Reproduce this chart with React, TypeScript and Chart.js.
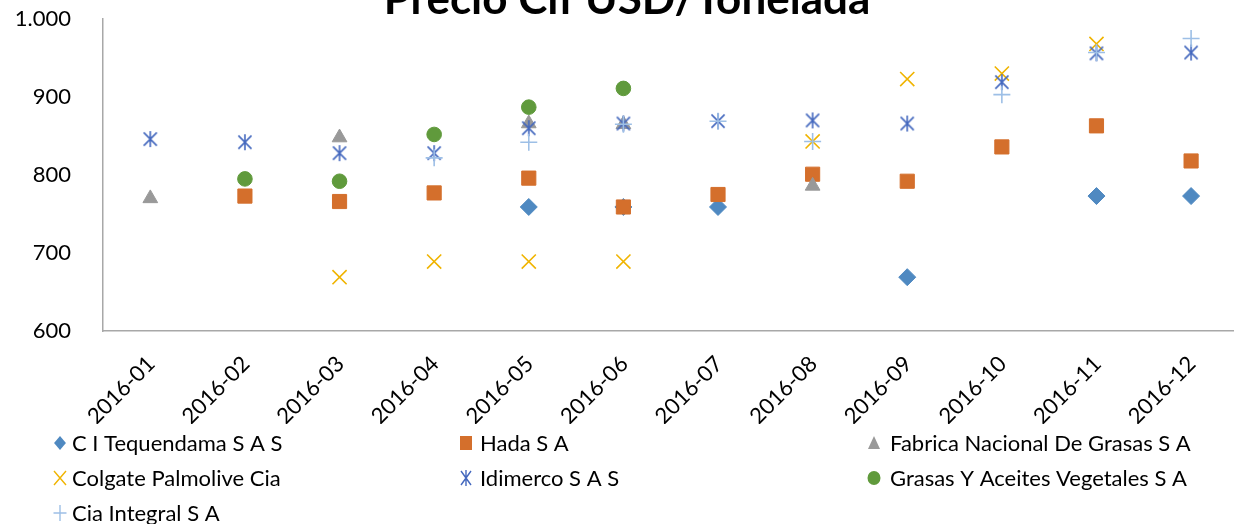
import React, { useEffect, useRef } from 'react';
import { Chart, registerables } from 'chart.js';

Chart.register(...registerables);

const TITLE = 'Precio Cif USD/Tonelada';

const categories = [
  '2016-01', '2016-02', '2016-03', '2016-04', '2016-05', '2016-06',
  '2016-07', '2016-08', '2016-09', '2016-10', '2016-11', '2016-12',
];

const seriesNames = [
  'C I Tequendama S A S',
  'Hada S A',
  'Fabrica Nacional De Grasas S A',
  'Colgate Palmolive Cia',
  'Idimerco S A S',
  'Grasas Y Aceites Vegetales S A',
  'Cia Integral S A',
];

const tequendama = [null, null, null, null, 759, 759, 759, null, 669, null, 773, 773];
const hada = [null, 773, 766, 777, 796, 759, 775, 801, 792, 836, 863, 818];
const fabrica = [770, null, 848, null, 866, 865, null, 786, null, null, null, null];
const colgate = [null, null, 669, 689, 689, 689, null, 843, 923, 930, 968, null];
const idimerco = [846, 842, 828, 828, 860, 866, 869, 870, 866, 919, 956, 957];
const grasas = [null, 795, 792, 852, 887, 911, null, null, null, null, null, null];
const ciaIntegral = [null, null, null, 822, 842, 865, 869, 843, null, 903, 957, 975];

const yTickValues = [600, 700, 800, 900, 1000];

const seriesValues = [tequendama, hada, fabrica, colgate, idimerco, grasas, ciaIntegral];

type Style = { color: string; shape: string; radius: number; lineWidth: number; filled: boolean };

const seriesStyles: Style[] = [
  { color: '#4f89c1', shape: 'rectRot', radius: 8.5, lineWidth: 1, filled: true },
  { color: '#d46f2c', shape: 'rect', radius: 10, lineWidth: 1, filled: true },
  { color: '#999999', shape: 'triangle', radius: 8.5, lineWidth: 1, filled: true },
  { color: '#f0b400', shape: 'crossRot', radius: 10, lineWidth: 1.6, filled: false },
  { color: '#4468be', shape: 'asterisk', radius: 8.5, lineWidth: 1.6, filled: false },
  { color: '#609a3c', shape: 'circle', radius: 7.3, lineWidth: 1, filled: true },
  { color: '#9dbfe6', shape: 'cross', radius: 8.5, lineWidth: 1.6, filled: false },
];

const FONT = 'Lato, "Open Sans", sans-serif';
const LEGEND_MARKER_X = [60, 466, 874];
const LEGEND_TEXT_X = [72, 480, 890];
const LEGEND_ROW_Y = [443, 478, 513];

function makeAsterisk(size: number, color: string, lw: number): HTMLCanvasElement {
  const c = document.createElement('canvas');
  c.width = size;
  c.height = size;
  const ctx = c.getContext('2d')!;
  ctx.strokeStyle = color;
  ctx.lineWidth = lw;
  const h = size / 2;
  const r = h - 1;
  ctx.beginPath();
  ctx.moveTo(h - r * 0.82, h - r * 0.82);
  ctx.lineTo(h + r * 0.82, h + r * 0.82);
  ctx.moveTo(h + r * 0.82, h - r * 0.82);
  ctx.lineTo(h - r * 0.82, h + r * 0.82);
  ctx.moveTo(h, h - r);
  ctx.lineTo(h, h + r);
  ctx.stroke();
  return c;
}

function drawLegendMarker(ctx: CanvasRenderingContext2D, st: Style, x: number, y: number) {
  ctx.save();
  ctx.fillStyle = st.color;
  ctx.strokeStyle = st.color;
  ctx.lineWidth = st.filled ? 1 : 1.4;
  const r = 7;
  ctx.beginPath();
  switch (st.shape) {
    case 'rectRot':
      ctx.moveTo(x, y - r);
      ctx.lineTo(x + r * 0.85, y);
      ctx.lineTo(x, y + r);
      ctx.lineTo(x - r * 0.85, y);
      ctx.closePath();
      ctx.fill();
      break;
    case 'rect':
      ctx.rect(x - 6, y - 7, 12, 14);
      ctx.fill();
      break;
    case 'triangle':
      ctx.moveTo(x, y - 7);
      ctx.lineTo(x + 6, y + 6);
      ctx.lineTo(x - 6, y + 6);
      ctx.closePath();
      ctx.fill();
      break;
    case 'circle':
      ctx.ellipse(x, y, 6.5, 7, 0, 0, Math.PI * 2);
      ctx.fill();
      break;
    case 'crossRot':
      ctx.moveTo(x - 6, y - 7);
      ctx.lineTo(x + 6, y + 7);
      ctx.moveTo(x + 6, y - 7);
      ctx.lineTo(x - 6, y + 7);
      ctx.stroke();
      break;
    case 'cross':
      ctx.moveTo(x - 6.5, y);
      ctx.lineTo(x + 6.5, y);
      ctx.moveTo(x, y - 8);
      ctx.lineTo(x, y + 8);
      ctx.stroke();
      break;
    case 'asterisk':
      ctx.moveTo(x - 5, y - 7);
      ctx.lineTo(x + 5, y + 7);
      ctx.moveTo(x + 5, y - 7);
      ctx.lineTo(x - 5, y + 7);
      ctx.moveTo(x, y - 8);
      ctx.lineTo(x, y + 8);
      ctx.stroke();
      break;
  }
  ctx.restore();
}

const titlePlugin = {
  id: 'excelTitle',
  afterDraw(chart: any) {
    const ctx = chart.ctx as CanvasRenderingContext2D;
    ctx.save();
    ctx.font = `bold 44px ${FONT}`;
    ctx.fillStyle = '#000';
    ctx.textAlign = 'center';
    ctx.textBaseline = 'alphabetic';
    ctx.fillText(TITLE, chart.width / 2 + 2, 14);
    ctx.restore();
  },
};

const legendPlugin = {
  id: 'excelLegend',
  afterDraw(chart: any) {
    const ctx = chart.ctx as CanvasRenderingContext2D;
    ctx.save();
    ctx.font = `22px ${FONT}`;
    ctx.fillStyle = '#000';
    ctx.textAlign = 'left';
    ctx.textBaseline = 'middle';
    seriesNames.forEach((name, i) => {
      const col = i % 3;
      const row = Math.floor(i / 3);
      drawLegendMarker(ctx, seriesStyles[i], LEGEND_MARKER_X[col], LEGEND_ROW_Y[row]);
      ctx.fillText(name, LEGEND_TEXT_X[col], LEGEND_ROW_Y[row] + 1);
    });
    ctx.restore();
  },
};

function formatThousands(v: number): string {
  const s = Math.round(v).toString();
  return s.replace(/\B(?=(\d{3})+(?!\d))/g, '.');
}

export default function App() {
  const canvasRef = useRef<HTMLCanvasElement | null>(null);

  useEffect(() => {
    const canvas = canvasRef.current;
    if (!canvas) return;
    const asterisk = makeAsterisk(18, seriesStyles[4].color, 1.6);
    const datasets = seriesNames.map((name, i) => {
      const st = seriesStyles[i];
      return {
        label: name,
        data: seriesValues[i],
        showLine: false,
        pointStyle: st.shape === 'asterisk' ? asterisk : st.shape,
        pointRadius: st.radius,
        pointHoverRadius: st.radius,
        pointBackgroundColor: st.color,
        pointBorderColor: st.color,
        pointBorderWidth: st.lineWidth,
        backgroundColor: st.color,
        borderColor: st.color,
        order: seriesNames.length - i,
      };
    });

    const chart = new Chart(canvas, {
      type: 'line',
      data: { labels: categories, datasets: datasets as any },
      options: {
        animation: false,
        responsive: false,
        devicePixelRatio: 1,
        layout: { padding: { top: 19, right: 2, bottom: 100, left: 0 } },
        plugins: {
          legend: { display: false },
          title: { display: false },
          tooltip: { enabled: false },
        },
        scales: {
          x: {
            type: 'category',
            offset: true,
            grid: { display: false, drawTicks: false },
            border: { display: true, color: '#a8a8a8', width: 1.5 },
            ticks: {
              autoSkip: false,
              minRotation: 45,
              maxRotation: 45,
              padding: 20,
              labelOffset: 1,
              color: '#000',
              font: { family: FONT, size: 22 },
            },
            afterFit: (scale: any) => {
              scale.height = 93;
            },
          },
          y: {
            type: 'linear',
            min: 600,
            max: 1000,
            afterBuildTicks: (scale: any) => {
              scale.ticks = yTickValues.map((v) => ({ value: v }));
            },
            grid: {
              display: true,
              drawOnChartArea: false,
              drawTicks: true,
              tickLength: 29,
              tickColor: 'rgba(0,0,0,0)',
              color: 'rgba(0,0,0,0)',
            },
            border: { display: true, color: '#a8a8a8', width: 1.5 },
            ticks: {
              padding: 3,
              color: '#000',
              font: { family: FONT, size: 22 },
              callback: (v: any) => formatThousands(Number(v)),
            },
            afterFit: (scale: any) => {
              scale.width = 103;
            },
          },
        },
      },
      plugins: [titlePlugin, legendPlugin],
    });
    return () => chart.destroy();
  }, []);

  return (
    <div
      style={{
        position: 'fixed',
        left: 0,
        top: 0,
        width: 1234,
        height: 524,
        overflow: 'hidden',
        background: '#fff',
      }}
    >
      <canvas ref={canvasRef} width={1250} height={524} style={{ display: 'block', width: 1250, height: 524 }} />
    </div>
  );
}
